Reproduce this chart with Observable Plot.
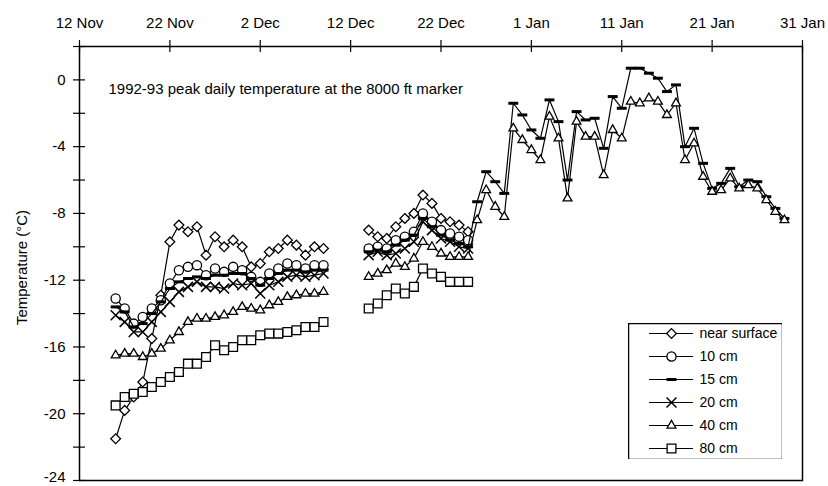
<!DOCTYPE html>
<html><head><meta charset="utf-8">
<script src="https://cdn.jsdelivr.net/npm/d3@7"></script>
<script src="https://cdn.jsdelivr.net/npm/@observablehq/plot@0.6"></script>
<style>
body{margin:0;background:#fff;}
#wrap{position:relative;width:828px;height:486px;font-family:"Liberation Sans",Arial,sans-serif;}
#legend{position:absolute;left:628px;top:323px;}
</style></head><body><div id="wrap"></div>
<script>
// ---- data (index 0 = 16 Nov 1992, one value per day, null = no reading) ----
const startDate = "1992-11-16";
const seriesNames = ["near surface", "10 cm", "15 cm", "20 cm", "40 cm", "80 cm"];

const nearSurface = [
  -21.5,-19.8,-19.0,-18.1,-15.5,-12.9,-9.7,-8.7,-9.1,-8.8,-10.5,-9.4,-10.0,-9.6,-10.0,
  -11.2,-11.0,-10.3,-10.1,-9.6,-9.9,-10.5,-10.0,-10.1,
  null,null,null,null,
  -9.0,-9.4,-9.5,-8.8,-8.3,-8.0,-6.9,-7.4,-8.3,-8.5,-8.7,-9.1
];
const cm10 = [
  -13.1,-13.7,-14.6,-14.2,-13.7,-13.2,-12.2,-11.4,-11.2,-11.1,-11.7,-11.3,-11.5,-11.2,-11.4,
  -11.8,-12.1,-11.6,-11.3,-11.0,-11.1,-11.3,-11.1,-11.1,
  null,null,null,null,
  -10.1,-10.0,-10.1,-9.6,-9.4,-9.1,-8.0,-8.5,-9.0,-9.2,-9.4,-9.6
];
const cm15 = [
  -13.6,-13.9,-14.8,-14.6,-14.0,-13.3,-12.5,-12.1,-11.9,-11.8,-11.9,-11.7,-11.7,-11.6,-11.6,
  -11.9,-12.3,-11.9,-11.6,-11.4,-11.4,-11.5,-11.4,-11.4,
  null,null,null,null,
  -10.3,-10.2,-10.3,-9.9,-9.6,-9.3,-8.3,-8.8,-9.3,-9.6,-9.8,-10.0,
  -7.3,-5.5,-6.1,-6.8,-1.4,-2.1,
  -3.0,-3.5,-1.2,-2.5,-6.0,-1.9,-2.4,-2.3,-4.1,-1.0,-1.7,0.7,0.7,0.4,0.1,-0.7,-0.3,
  -4.0,-2.9,-5.0,-6.5,-6.2,-5.3,-6.4,-6.0,-6.1,-7.0,-7.7,-8.3
];
const cm20 = [
  -14.1,-14.5,-15.1,-15.1,-14.5,-13.9,-13.3,-12.7,-12.4,-12.1,-12.4,-12.4,-12.5,-12.2,-12.3,
  -12.2,-12.8,-12.3,-12.1,-11.8,-11.7,-11.8,-11.7,-11.6,
  null,null,null,null,
  -10.5,-10.3,-10.5,-10.4,-10.1,-9.7,-8.5,-9.0,-9.5,-9.7,-10.0,-10.1
];
const cm40 = [
  -16.5,-16.4,-16.4,-16.6,-16.4,-16.1,-15.6,-15.1,-14.5,-14.3,-14.3,-14.2,-14.1,-13.9,-13.6,
  -13.7,-13.8,-13.5,-13.3,-13.0,-12.9,-12.8,-12.8,-12.7,
  null,null,null,null,
  -11.8,-11.6,-11.4,-11.0,-11.2,-10.7,-9.7,-10.0,-10.4,-10.6,-10.6,-10.6,
  -8.4,-6.6,-7.6,-8.2,-2.9,-3.6,
  -4.2,-4.8,-2.2,-3.5,-7.1,-2.5,-3.4,-3.4,-5.7,-3.0,-3.5,-1.3,-1.4,-1.1,-1.3,-2.1,-1.4,
  -4.8,-3.8,-5.8,-6.7,-6.6,-5.9,-6.5,-6.3,-6.5,-7.2,-7.9,-8.4
];
const cm80 = [
  -19.5,-19.0,-18.8,-18.7,-18.4,-18.1,-17.8,-17.5,-17.0,-17.0,-16.6,-15.9,-16.2,-16.0,-15.6,
  -15.6,-15.3,-15.2,-15.2,-15.1,-15.0,-14.8,-14.8,-14.5,
  null,null,null,null,
  -13.7,-13.4,-12.9,-12.5,-12.8,-12.4,-11.3,-11.6,-11.8,-12.1,-12.1,-12.1
];

const tickDates = ["1992-11-12","1992-11-22","1992-12-02","1992-12-12","1992-12-22","1993-01-01","1993-01-11","1993-01-21","1993-01-31"];
const tickLabels = ["12 Nov","22 Nov","2 Dec","12 Dec","22 Dec","1 Jan","11 Jan","21 Jan","31 Jan"];
const yTicks = [2,0,-2,-4,-6,-8,-10,-12,-14,-16,-18,-20,-22,-24];
const yLabels = [0,-4,-8,-12,-16,-20];
const yLabelBottom = [-24];
const titleText = "1992-93 peak daily temperature at the 8000 ft marker";
const yTitle = "Temperature (\u00B0C)";

// ---- build table ----
const seriesValues = [nearSurface, cm10, cm15, cm20, cm40, cm80];
const start = new Date(startDate + "T00:00:00Z");
const rows = [];
seriesNames.forEach((name, s) => {
  seriesValues[s].forEach((v, i) => {
    rows.push({series: name, date: d3.utcDay.offset(start, i), value: v == null ? NaN : v});
  });
});
const ticks = tickDates.map(d => new Date(d + "T00:00:00Z"));
const labelOf = new Map(ticks.map((d, i) => [+d, tickLabels[i]]));

// ---- styles ----
const dashSymbol = {draw(ctx, size) { const w = Math.sqrt(size) * 0.56; ctx.moveTo(-w, 0); ctx.lineTo(w, 0); }};
const styles = {
  "near surface": {symbol: "diamond2", r: 4.4, strokeWidth: 1.3, fill: "white"},
  "10 cm": {symbol: "circle", r: 4.6, strokeWidth: 1.3, fill: "white"},
  "15 cm": {symbol: dashSymbol, r: 5, strokeWidth: 3, fill: "none"},
  "20 cm": {symbol: "times", r: 4.6, strokeWidth: 1.5, fill: "none"},
  "40 cm": {symbol: "triangle2", r: 4.2, strokeWidth: 1.3, fill: "white"},
  "80 cm": {symbol: "square2", r: 5.6, strokeWidth: 1.3, fill: "white"}
};

const W = 828, H = 486, mL = 79, mR = 26, mT = 46, mB = 6;
const innerW = W - mL - mR, innerH = H - mT - mB;
const narrow = "'Liberation Sans Narrow', 'Arial Narrow', 'Liberation Sans', Arial, sans-serif";

const seriesMarks = seriesNames.flatMap(name => {
  const data = rows.filter(r => r.series === name);
  const st = styles[name];
  return [
    Plot.line(data, {x: "date", y: "value", stroke: "black", strokeWidth: 1.2}),
    Plot.dot(data, {x: "date", y: "value", symbol: st.symbol, r: st.r, stroke: "black", strokeWidth: st.strokeWidth, fill: st.fill})
  ];
});

const chart = Plot.plot({
  width: W, height: H,
  marginLeft: mL, marginRight: mR, marginTop: mT, marginBottom: mB,
  style: {fontFamily: "'Liberation Sans', Arial, sans-serif", fontSize: "14px", color: "black", background: "white"},
  x: {type: "utc", domain: [ticks[0], ticks[ticks.length - 1]], axis: null},
  y: {domain: [-24, 2], axis: null},
  marks: [
    Plot.frame({stroke: "black", strokeWidth: 1.5}),
    Plot.tickX(ticks, {x: d => d, stroke: "black", strokeWidth: 1.2, insetTop: -6, insetBottom: innerH - 6}),
    Plot.tickY(yTicks, {y: d => d, stroke: "black", strokeWidth: 1.2, insetLeft: -6, insetRight: innerW - 6}),
    Plot.axisX({anchor: "top", ticks: ticks, tickSize: 0, tickPadding: 19, fontSize: 15, fontFamily: narrow, tickFormat: d => labelOf.get(+d)}),
    Plot.axisY({anchor: "left", ticks: yLabels, tickSize: 0, tickPadding: 14, fontSize: 15, tickFormat: d => String(d), label: null}),
    Plot.axisY({anchor: "left", ticks: yLabelBottom, tickSize: 0, tickPadding: 14, fontSize: 15, dy: -3, tickFormat: d => String(d), label: null}),
    Plot.text([yTitle], {frameAnchor: "left", dx: -57, dy: 4, rotate: -90, textAnchor: "middle", fontSize: 15, fill: "black"}),
    Plot.text([titleText], {frameAnchor: "top-left", dx: 29, dy: 43, textAnchor: "start", lineAnchor: "middle", fontSize: 15, fill: "black"}),
    ...seriesMarks
  ]
});
document.getElementById("wrap").append(chart);

// ---- legend (separate small plot) ----
const LW = 154, LH = 136;
const legend = Plot.plot({
  width: LW, height: LH, margin: 0,
  style: {fontFamily: "'Liberation Sans', Arial, sans-serif", fontSize: "14px", color: "black", background: "white"},
  y: {type: "point", domain: seriesNames, range: [10, 125], padding: 0, axis: null},
  marks: [
    Plot.frame({stroke: "black", strokeWidth: 1.5}),
    Plot.tickY(seriesNames, {y: d => d, stroke: "black", strokeWidth: 1.2, insetLeft: 21, insetRight: LW - 65}),
    ...seriesNames.map(name => Plot.dot([name], {y: d => d, frameAnchor: "left", dx: 43, symbol: styles[name].symbol, r: styles[name].r, stroke: "black", strokeWidth: styles[name].strokeWidth, fill: styles[name].fill})),
    Plot.text(seriesNames, {y: d => d, text: d => d, frameAnchor: "left", dx: 71, textAnchor: "start", fontSize: 14, fill: "black"})
  ]
});
legend.id = "legend";
document.getElementById("wrap").append(legend);
</script>
</body></html>
